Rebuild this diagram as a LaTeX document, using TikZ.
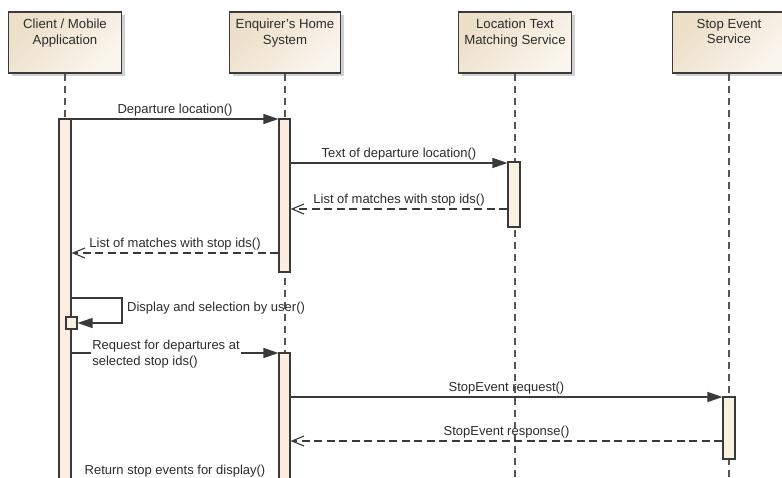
\documentclass[tikz,border=0pt]{standalone}
\usepackage{fontspec}
\setmainfont{Liberation Sans}
\usetikzlibrary{arrows.meta,shadows}
\definecolor{edge}{HTML}{3A3A3A}
\definecolor{life}{HTML}{555555}
\definecolor{boxA}{HTML}{EDDFC8}
\definecolor{boxB}{HTML}{FAF5EE}
\definecolor{actA}{HTML}{FCEDE0}
\definecolor{actB}{HTML}{F8F3E1}
\definecolor{txt}{HTML}{2C2C2C}
\tikzset{
  actor/.style={draw=edge, line width=1.3pt, minimum width=113pt, minimum height=61pt,
    top color=boxA, bottom color=boxB, shading angle=45,
    drop shadow={shadow xshift=3pt, shadow yshift=-3pt, fill=black!18, opacity=1}},
  actortext/.style={anchor=north, inner sep=0pt, align=center, text=txt,
    font=\fontsize{13.2}{15.5}\selectfont},
  lifeline/.style={draw=life, line width=1.1pt, dash pattern=on 7pt off 5pt},
  actbar/.style={draw=edge, line width=1.1pt, minimum width=12pt, inner sep=0pt},
  msg/.style={draw=edge, line width=1.2pt, -{Triangle[length=15pt,width=10pt]}},
  ret/.style={draw=edge, line width=1.2pt, dash pattern=on 8pt off 4.5pt,
    -{Straight Barb[length=12pt,width=10pt,line width=1.1pt]}},
  lbl/.style={anchor=base, yshift=5.5pt, inner sep=0pt, text=txt,
    font=\fontsize{13}{15}\selectfont},
}
\begin{document}
\begin{tikzpicture}[x=1pt,y=-1pt]
\useasboundingbox (0,0) rectangle (782,477);
\clip (0,0) rectangle (782,477);
\fill[white] (0,0) rectangle (782,477);

% actors
\node[actor] (a1) at (65,42.5) {};
\node[actor, minimum width=111pt] (a2) at (285,42.5) {};
\node[actor] (a3) at (515,42.5) {};
\node[actor] (a4) at (729,42.5) {};
\node[actortext] (t1) at (65,19) {Client / Mobile\\Application};
\node[actortext] (t2) at (285,19) {Enquirer's Home\\System};
\node[actortext] (t3) at (515,19) {Location Text\\Matching Service};
\node[actortext] (t4) at (729,19) {Stop Event\\Service};

% lifeline ends
\coordinate (e1) at (65,500);
\coordinate (e2) at (285,500);
\coordinate (e3) at (515,500);
\coordinate (e4) at (729,500);
\draw[lifeline] (a1.south) -- (e1);
\draw[lifeline] (a2.south) -- (e2);
\draw[lifeline] (a3.south) -- (e3);
\draw[lifeline] (a4.south) -- (e4);

% activation bars
\node[actbar, fill=actA, minimum height=380pt] (b1) at (65,309) {};
\node[actbar, fill=actA, minimum width=11pt, minimum height=153pt] (b2) at (284.5,195.5) {};
\node[actbar, fill=actB, minimum height=65pt] (b3) at (514,194.5) {};
\node[actbar, fill=actB, minimum height=62pt] (b4) at (729,428) {};
\node[actbar, fill=actA, minimum width=11pt, minimum height=150pt] (b5) at (284.5,428) {};
\node[actbar, fill=actB, minimum width=11pt, minimum height=12pt] (sq) at (71.5,323) {};

% message levels
\coordinate (y1) at (0,119);
\coordinate (y2) at (0,163);
\coordinate (y3) at (0,209);
\coordinate (y4) at (0,253);
\coordinate (y5) at (0,298);
\coordinate (y6) at (0,353);
\coordinate (y7) at (0,397);
\coordinate (y8) at (0,441);
\coordinate (y9) at (0,487);
\coordinate (selfR) at (122,298);

\draw[msg] (b1.east |- y1) -- node[lbl] {Departure location()} (b2.west |- y1);
\draw[msg] (b2.east |- y2) -- node[lbl] {Text of departure location()} (b3.west |- y2);
\draw[ret] (b3.west |- y3) -- node[lbl] {List of matches with stop ids()} (b2.east |- y3);
\draw[ret] (b2.west |- y4) -- node[lbl] {List of matches with stop ids()} (b1.east |- y4);
\draw[msg] (b1.east |- y5) -- (selfR) -- (selfR |- sq.east) -- (sq.east);
\node[anchor=west, inner sep=0pt, text=txt, font=\fontsize{13}{15}\selectfont] (l5) at (127,308) {Display and selection by user()};
\draw[msg] (b1.east |- y6) -- node[fill=white, inner sep=1.5pt, align=left, text=txt,
   font=\fontsize{13}{16}\selectfont, xshift=-9pt, yshift=-1pt] (l6) {Request for departures at\\selected stop ids()} (b5.west |- y6);
\draw[msg] (b5.east |- y7) -- node[lbl] {StopEvent request()} (b4.west |- y7);
\draw[ret] (b4.west |- y8) -- node[lbl] {StopEvent response()} (b5.east |- y8);
\draw[ret] (b5.west |- y9) -- node[lbl, yshift=7.5pt] {Return stop events for display()} (b1.east |- y9);
\end{tikzpicture}
\end{document}
